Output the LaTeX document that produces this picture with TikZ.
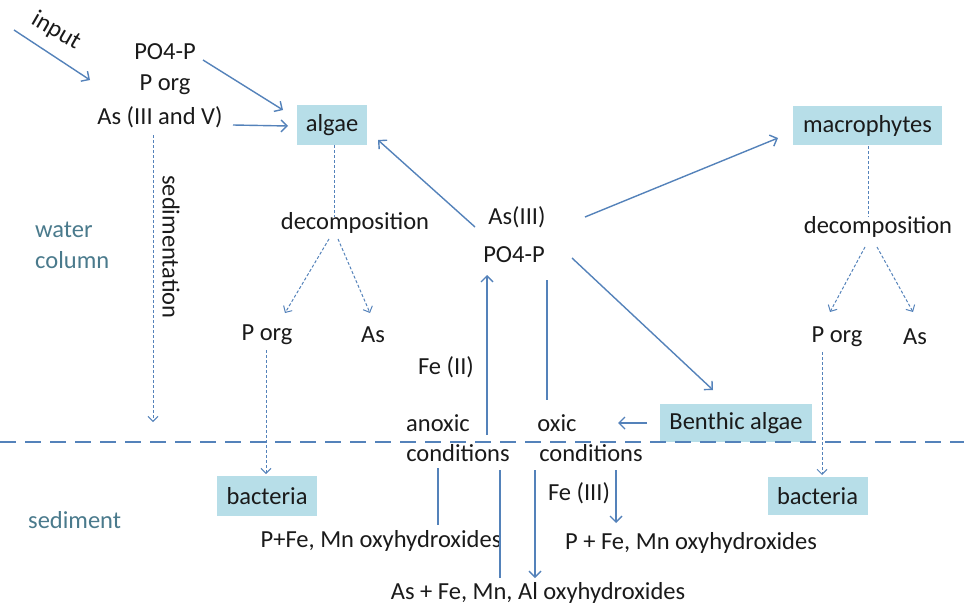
\documentclass[tikz,border=0pt]{standalone}
\usepackage{fontspec}
\setmainfont{Carlito}
\usetikzlibrary{arrows.meta}
\definecolor{ln}{RGB}{84,130,186}
\definecolor{bx}{HTML}{B7DEE8}
\definecolor{wc}{HTML}{4A7A8C}
\definecolor{tx}{HTML}{1A1A1A}
\begin{document}
\begin{tikzpicture}[x=1pt,y=-1pt,
  lbl/.style={font=\fontsize{24.5}{28}\selectfont, text=tx, inner sep=0pt, anchor=center},
  bio/.style={lbl, fill=bx},
  arr/.style={draw=ln, line width=1.4pt, -{Straight Barb[length=6pt,width=12pt,line width=1.4pt]}},
  darr/.style={draw=ln, line width=1pt, dash pattern=on 3pt off 2pt, -{Straight Barb[length=5pt,width=10pt,line width=1pt]}},
  dln/.style={draw=ln, line width=1pt, dash pattern=on 3pt off 2pt},
  sln/.style={draw=ln, line width=1.4pt},
  boundary/.style={draw=ln, line width=1.6pt, dash pattern=on 16pt off 9pt}]
\useasboundingbox (0,0) rectangle (964,608);

% boxes
\node[bio, minimum width=70pt, minimum height=40pt] (algae) at (332,125) {algae};
\node[bio, minimum width=149pt, minimum height=39pt] (macro) at (867.5,125.5) {macrophytes};
\node[bio, minimum width=152pt, minimum height=38pt] (benthic) at (736,423) {Benthic algae};
\node[bio, minimum width=100pt, minimum height=40pt] (bactL) at (267,496) {bacteria};
\node[bio, minimum width=100pt, minimum height=38pt] (bactR) at (817.5,496) {bacteria};

% labels
\node[lbl, rotate=-30] (input) at (56,31) {input};
\node[lbl] (po4a) at (165,52) {PO4-P};
\node[lbl] (porga) at (165,85) {P org};
\node[lbl] (asin) at (160,117) {As (III and V)};
\node[lbl, text=wc, anchor=west] (water) at (35,230) {water};
\node[lbl, text=wc, anchor=west] (column) at (35,260) {column};
\node[lbl, text=wc, anchor=west] (sediment) at (28,520) {sediment};
\node[lbl, rotate=-90] (sedim) at (171,247) {sedimentation};
\node[lbl] (decL) at (355,223) {decomposition};
\node[lbl] (porgL) at (267,335) {P org};
\node[lbl] (asL) at (373,335) {As};
\node[lbl] (as3) at (517,217) {As(III)};
\node[lbl] (po4b) at (514,255) {PO4-P};
\node[lbl] (decR) at (878,227) {decomposition};
\node[lbl] (porgR) at (837,337) {P org};
\node[lbl] (asR) at (915,337) {As};
\node[lbl] (fe2) at (446,367) {Fe (II)};
\node[lbl] (anoxic) at (438,423) {anoxic};
\node[lbl] (oxic) at (557,423) {oxic};
\node[lbl] (condL) at (458,453) {conditions};
\node[lbl] (condR) at (591,453) {conditions};
\node[lbl] (fe3) at (579,493) {Fe (III)};
\node[lbl] (pfe1) at (381,541) {P+Fe, Mn oxyhydroxides};
\node[lbl] (asfe) at (538,593) {As + Fe, Mn, Al oxyhydroxides};
\node[lbl] (pfe2) at (691,543) {P + Fe, Mn oxyhydroxides};

% connector ends
\coordinate (inS) at (14,30);   \coordinate (inE) at (90,80);
\coordinate (poS) at (203,60);  \coordinate (poE) at (283,110);
\coordinate (asS) at (233,125); \coordinate (asE) at (288,126);
\coordinate (sedS) at (153,135); \coordinate (sedE) at (153,422);
\coordinate (dLa) at (334,145); \coordinate (dLb) at (334,217);
\coordinate (dL1) at (329,239); \coordinate (dL1e) at (285,313);
\coordinate (dL2) at (338,239); \coordinate (dL2e) at (370,313);
\coordinate (pLs) at (266,350); \coordinate (pLe) at (266,474);
\coordinate (a3a) at (475,227); \coordinate (a3ae) at (378,140);
\coordinate (a3m) at (585,217); \coordinate (a3me) at (778,138);
\coordinate (pbS) at (572,258); \coordinate (pbE) at (713,390);
\coordinate (anS) at (487,435); \coordinate (anE) at (487,275);
\coordinate (oxS) at (547,280); \coordinate (oxE) at (547,400);
\coordinate (bnS) at (647,423); \coordinate (bnE) at (618,423);
\coordinate (dRa) at (868,146); \coordinate (dRb) at (868,217);
\coordinate (dR1) at (865,247); \coordinate (dR1e) at (830,312);
\coordinate (dR2) at (877,247); \coordinate (dR2e) at (913,312);
\coordinate (pRs) at (822,352); \coordinate (pRe) at (822,475);
\coordinate (c1S) at (438,468); \coordinate (c1E) at (438,525);
\coordinate (c2S) at (500,470); \coordinate (c2E) at (500,578);
\coordinate (c3S) at (535,470); \coordinate (c3E) at (535,578);
\coordinate (c4S) at (616,470); \coordinate (c4E) at (616,523);
\coordinate (bL) at (0,442);    \coordinate (bR) at (964,442);

% connectors
\draw[arr] (inS) -- (inE);
\draw[arr] (poS) -- (poE);
\draw[arr] (asS) -- (asE);
\draw[darr] (sedS) -- (sedE);
\draw[dln] (dLa) -- (dLb);
\draw[darr] (dL1) -- (dL1e);
\draw[darr] (dL2) -- (dL2e);
\draw[darr] (pLs) -- (pLe);
\draw[arr] (a3a) -- (a3ae);
\draw[arr] (a3m) -- (a3me);
\draw[arr] (pbS) -- (pbE);
\draw[arr] (anS) -- (anE);
\draw[sln] (oxS) -- (oxE);
\draw[arr] (bnS) -- (bnE);
\draw[dln] (dRa) -- (dRb);
\draw[darr] (dR1) -- (dR1e);
\draw[darr] (dR2) -- (dR2e);
\draw[darr] (pRs) -- (pRe);
\draw[sln] (c1S) -- (c1E);
\draw[sln] (c2S) -- (c2E);
\draw[arr] (c3S) -- (c3E);
\draw[arr] (c4S) -- (c4E);
\draw[boundary] (bL) -- (bR);
\end{tikzpicture}
\end{document}
